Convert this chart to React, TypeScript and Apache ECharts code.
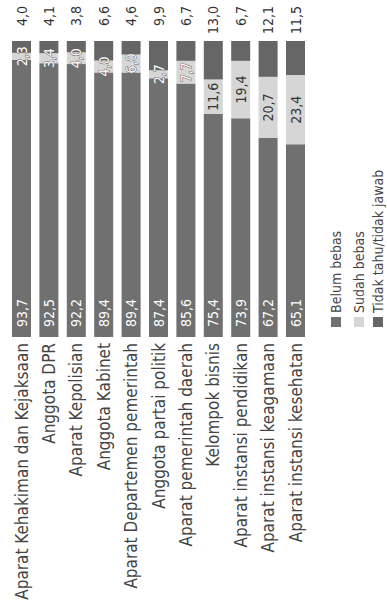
import React, { useEffect, useRef } from "react";
import * as echarts from "echarts";

const categories = [
  "Aparat Kehakiman dan Kejaksaan",
  "Anggota DPR",
  "Aparat Kepolisian",
  "Anggota Kabinet",
  "Aparat Departemen pemerintah",
  "Anggota partai politik",
  "Aparat pemerintah daerah",
  "Kelompok bisnis",
  "Aparat instansi pendidikan",
  "Aparat instansi keagamaan",
  "Aparat instansi kesehatan",
];
const belumBebas = [93.7, 92.5, 92.2, 89.4, 89.4, 87.4, 85.6, 75.4, 73.9, 67.2, 65.1];
const sudahBebas = [2.3, 3.4, 4.0, 4.0, 6.0, 2.7, 7.7, 11.6, 19.4, 20.7, 23.4];
const tidakTahu = [4.0, 4.1, 3.8, 6.6, 4.6, 9.9, 6.7, 13.0, 6.7, 12.1, 11.5];
const legendNames = ["Belum bebas", "Sudah bebas", "Tidak tahu/tidak jawab"];

const C_BELUM = "#707070";
const C_SUDAH = "#d6d6d6";
const C_TIDAK = "#666666";
const FONT = "DejaVu Sans Condensed, DejaVu Sans, sans-serif";

const fmt = (v: number) => v.toFixed(1).replace(".", ",");

export default function App() {
  const ref = useRef<HTMLDivElement>(null);
  useEffect(() => {
    document.body.style.margin = "0";
    const chart = echarts.init(ref.current!, null, { renderer: "svg" });
    const colors = [C_BELUM, C_SUDAH, C_TIDAK];
    const legendX = [336, 359, 378];
    const graphic: any[] = [];
    legendNames.forEach((n, i) => {
      graphic.push({
        type: "rect",
        shape: { x: legendX[i] - 5, y: 317, width: 10, height: 10 },
        style: { fill: colors[i] },
      });
      graphic.push({
        type: "text",
        x: legendX[i],
        y: 313,
        rotation: Math.PI / 2,
        style: {
          text: n,
          fill: "#444",
          font: `14px ${FONT}`,
          align: "left",
          verticalAlign: "middle",
        },
      });
    });
    chart.setOption({
      animation: false,
      backgroundColor: "#fff",
      grid: { left: 7.8, right: 77.8, top: 41, bottom: 270 },
      xAxis: {
        type: "category",
        data: categories,
        axisLine: { show: false },
        axisTick: { show: false },
        axisLabel: {
          rotate: 90,
          margin: 6,
          interval: 0,
          color: "#444",
          fontFamily: FONT,
          fontSize: 17,
        },
      },
      yAxis: {
        type: "value",
        min: 0,
        max: 100,
        show: false,
        splitLine: { show: false },
      },
      graphic,
      series: [
        {
          name: legendNames[0],
          type: "bar",
          stack: "s",
          barWidth: 19,
          data: belumBebas,
          itemStyle: { color: C_BELUM },
          label: {
            show: true,
            position: "insideBottom",
            distance: 10,
            rotate: 90,
            align: "left",
            verticalAlign: "middle",
            color: "#fff",
            fontFamily: FONT,
            fontSize: 14,
            formatter: (p: any) => fmt(p.value),
          },
        },
        {
          name: legendNames[1],
          type: "bar",
          stack: "s",
          barWidth: 19,
          data: sudahBebas.map((v) => ({
            value: v,
            label:
              v < 10
                ? { color: "#fff", textBorderColor: "#666", textBorderWidth: 1 }
                : { color: "#333" },
          })),
          itemStyle: { color: C_SUDAH },
          label: {
            show: true,
            position: "inside",
            rotate: 90,
            align: "center",
            verticalAlign: "middle",
            fontFamily: FONT,
            fontSize: 14,
            formatter: (p: any) => fmt(p.value),
          },
        },
        {
          name: legendNames[2],
          type: "bar",
          stack: "s",
          barWidth: 19,
          data: tidakTahu,
          itemStyle: { color: C_TIDAK },
          label: {
            show: true,
            position: "top",
            distance: 35,
            rotate: 90,
            align: "right",
            verticalAlign: "middle",
            color: "#333",
            fontFamily: FONT,
            fontSize: 14,
            formatter: (p: any) => fmt(p.value),
          },
        },
      ],
    });
    return () => chart.dispose();
  }, []);
  return <div ref={ref} style={{ width: 387, height: 607 }} />;
}
